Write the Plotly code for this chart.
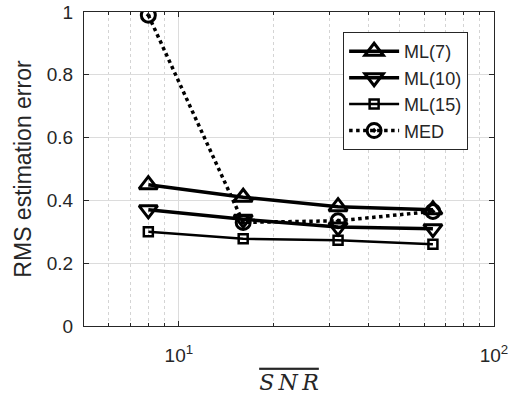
import plotly.graph_objects as go

snr = [8, 16, 32, 64]
ml7 = [0.45, 0.41, 0.38, 0.37]
ml10 = [0.37, 0.34, 0.315, 0.31]
ml15 = [0.30, 0.278, 0.273, 0.26]
med = [0.99, 0.33, 0.335, 0.365]

x_ticks = [10, 100]
x_ticktext = ["10<sup>1</sup>", "10<sup>2</sup>"]
x_minor = [5, 6, 7, 8, 9, 20, 30, 40, 50, 60, 70, 80, 90]
y_ticks = [0, 0.2, 0.4, 0.6, 0.8, 1]
y_ticktext = ["0", "0.2", "0.4", "0.6", "0.8", "1"]

fig = go.Figure()
fig.add_trace(go.Scatter(x=snr, y=ml7, name="ML(7)", mode="lines+markers",
                         line=dict(color="black", width=3.5),
                         marker=dict(symbol="triangle-up-open", size=16, color="black",
                                     line=dict(width=3, color="black"))))
fig.add_trace(go.Scatter(x=snr, y=ml10, name="ML(10)", mode="lines+markers",
                         line=dict(color="black", width=3.5),
                         marker=dict(symbol="triangle-down-open", size=16, color="black",
                                     line=dict(width=3, color="black"))))
fig.add_trace(go.Scatter(x=snr, y=ml15, name="ML(15)", mode="lines+markers",
                         line=dict(color="black", width=2.5),
                         marker=dict(symbol="square-open", size=9, color="black",
                                     line=dict(width=2.5, color="black"))))
fig.add_trace(go.Scatter(x=snr, y=med, name="MED", mode="lines+markers",
                         line=dict(color="black", width=3.5, dash="dot"),
                         marker=dict(symbol="circle-open-dot", size=14, color="black",
                                     line=dict(width=3, color="black"))))

fig.update_layout(
    template="none",
    width=519, height=398,
    margin=dict(l=84, r=25, t=12, b=72, autoexpand=False),
    paper_bgcolor="white", plot_bgcolor="white",
    font=dict(family="Liberation Sans, Arial, sans-serif", color="#262626", size=19),
    showlegend=True,
    legend=dict(x=0.632, y=0.936, xanchor="left", yanchor="top",
                bgcolor="white", bordercolor="#262626", borderwidth=1,
                font=dict(size=18, color="#262626"), itemwidth=50,
                tracegroupgap=0),
)
fig.update_xaxes(type="log", range=[0.69897, 2.0], automargin=False,
                 tickvals=x_ticks, ticktext=x_ticktext, ticks="inside", ticklen=5,
                 tickcolor="#262626", ticklabelstandoff=12, ticklabeloverflow="allow",
                 showgrid=True, gridcolor="#dcdcdc", gridwidth=1,
                 showline=True, linecolor="#262626", linewidth=1, mirror="ticks",
                 zeroline=False,
                 minor=dict(tickvals=x_minor, ticks="inside", ticklen=3, tickcolor="#262626",
                            showgrid=True, gridcolor="#d4d4d4", griddash="dot", gridwidth=1),
                 title=dict(text="<i><span style='text-decoration:overline'>S\u2009N\u2009R</span></i>",
                            font=dict(family="DejaVu Serif, Liberation Serif, serif", size=22, color="#262626"),
                            standoff=9))
fig.update_yaxes(range=[0, 1], automargin=False, tickvals=y_ticks, ticktext=y_ticktext,
                 ticks="inside", ticklen=5, tickcolor="#262626", ticklabelstandoff=6,
                 ticklabeloverflow="allow",
                 showgrid=True, gridcolor="#dcdcdc", gridwidth=1,
                 showline=True, linecolor="#262626", linewidth=1, mirror="ticks",
                 zeroline=False,
                 title=dict(text="RMS estimation error", font=dict(size=23, color="#262626"),
                            standoff=8))

fig.write_html("out.html", config={"displayModeBar": False},
               post_script="document.body.style.margin='0';")
